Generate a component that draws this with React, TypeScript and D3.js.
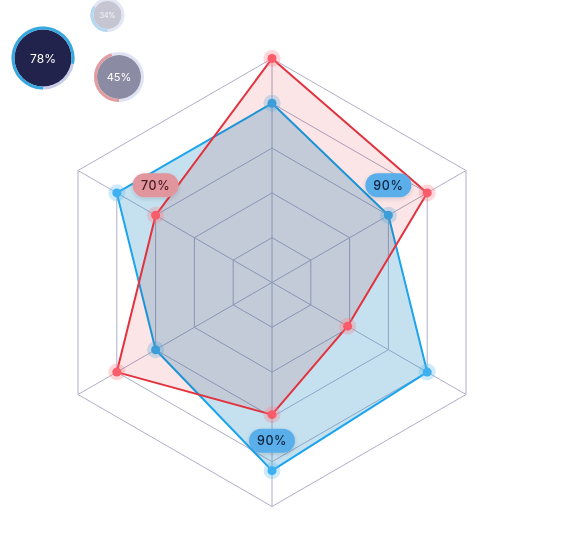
import * as d3 from 'd3';
import React from 'react';

// six unlabeled axes, clockwise from the top
const axes = ['A', 'B', 'C', 'D', 'E', 'F'];
const redValues = [100, 80, 39, 59, 80, 60];
const blueValues = [80, 60, 80, 84, 60, 80];
const ringLevels = [20, 40, 60, 80, 100];

// callout pills: series, axis index, text
const callouts = [
    { series: 'red', axis: 5, text: '70%' },
    { series: 'blue', axis: 1, text: '90%' },
    { series: 'blue', axis: 3, text: '90%' },
];

// decorative progress bubbles
const bubbleValues = [78, 34, 45];
const bubbleLayout = [
    { cx: 43, cy: 58, r: 28.5, fill: '#22234d', arc: '#36a9e0', track: '#c9cce8', font: 12 },
    { cx: 107.5, cy: 15, r: 14, fill: '#c5c6d1', arc: '#b5d8f2', track: '#e3e6f4', font: 7 },
    { cx: 119, cy: 77, r: 22, fill: '#8b8ca3', arc: '#e29b9e', track: '#e0e3f3', font: 11 },
];

const W = 580;
const H = 540;
const cx = 272;
const cy = 282.5;
const R = 224;

const App: React.FC = () => {
    const rScale = d3.scaleLinear().domain([0, 100]).range([0, R]);
    const angle = d3.scaleLinear().domain([0, axes.length]).range([0, 2 * Math.PI]);

    const radial = d3.lineRadial<number>()
        .angle((_, i) => angle(i))
        .radius((d) => rScale(d))
        .curve(d3.curveLinearClosed);

    const pt = (i: number, v: number) => {
        const a = angle(i);
        return [cx + rScale(v) * Math.sin(a), cy - rScale(v) * Math.cos(a)];
    };

    const series = [
        { key: 'blue', values: blueValues, fill: 'rgb(40,145,195)', fillOpacity: 0.27, stroke: '#1ca5ee', dot: '#3cb0f0', halo: '#5ab8f0', blend: 'normal' },
        { key: 'red', values: redValues, fill: 'rgb(230,70,80)', fillOpacity: 0.14, stroke: '#e2323e', dot: '#fb5c6a', halo: '#ff7a85', blend: 'multiply' },
    ];

    const arcGen = d3.arc();

    return (
        <svg width={W} height={H} style={{ position: 'absolute', left: 0, top: 0, fontFamily: 'Inter, "Noto Sans", sans-serif' }}>
            <defs>
                <filter id="pill-shadow" x="-30%" y="-40%" width="160%" height="200%">
                    <feDropShadow dx="0" dy="1.5" stdDeviation="2" floodColor="#1d2340" floodOpacity="0.16" />
                </filter>
            </defs>

            {/* grid */}
            <g transform={`translate(${cx},${cy})`}>
                {ringLevels.map((lv) => (
                    <path key={lv} d={radial(axes.map(() => lv)) || ''} fill="none" stroke="#aeaec8" strokeWidth={1} />
                ))}
                {axes.map((a, i) => (
                    <line key={a} x1={0} y1={0}
                        x2={rScale(100) * Math.sin(angle(i))}
                        y2={-rScale(100) * Math.cos(angle(i))}
                        stroke="#aeaec8" strokeWidth={1} />
                ))}
            </g>

            {/* series */}
            {series.map((s) => (
                <g key={s.key}>
                    <path transform={`translate(${cx},${cy})`} d={radial(s.values) || ''}
                        fill={s.fill} fillOpacity={s.fillOpacity}
                        style={{ mixBlendMode: s.blend as any }} />
                    <path transform={`translate(${cx},${cy})`} d={radial(s.values) || ''}
                        fill="none" stroke={s.stroke} strokeWidth={2} strokeLinejoin="round" />
                    {s.values.map((v, i) => {
                        const [x, y] = pt(i, v);
                        return (
                            <g key={i}>
                                <circle cx={x} cy={y} r={8.5} fill={s.halo} fillOpacity={0.3} />
                                <circle cx={x} cy={y} r={4.5} fill={s.dot} />
                            </g>
                        );
                    })}
                </g>
            ))}

            {/* callouts */}
            {callouts.map((c, i) => {
                const vals = c.series === 'red' ? redValues : blueValues;
                const [x, y] = pt(c.axis, vals[c.axis]);
                const py = y - 30;
                const isRed = c.series === 'red';
                return (
                    <g key={i} filter="url(#pill-shadow)">
                        <rect x={x - 23} y={py - 12} width={46} height={24} rx={12}
                            fill={isRed ? '#e0969c' : '#5aaeea'} />
                        <text x={x} y={py} textAnchor="middle" dominantBaseline="central"
                            fontSize={12.5} fontWeight={500} letterSpacing={0.6}
                            fill={isRed ? '#4d1a24' : '#10263f'}>{c.text}</text>
                    </g>
                );
            })}

            {/* bubbles */}
            {bubbleValues.map((v, i) => {
                const b = bubbleLayout[i];
                const start = Math.PI;
                const end = Math.PI + (v / 100) * 2 * Math.PI;
                return (
                    <g key={i} transform={`translate(${b.cx},${b.cy})`}>
                        <circle r={b.r + 1.5} fill="none" stroke={b.track} strokeWidth={3} />
                        <circle r={b.r} fill={b.fill} />
                        <path d={arcGen({ innerRadius: b.r, outerRadius: b.r + 3, startAngle: start, endAngle: end } as any) || ''}
                            fill={b.arc} />
                        <text textAnchor="middle" dominantBaseline="central" fontSize={b.font}
                            fill="#ffffff" fillOpacity={i === 1 ? 0.85 : 1}>{v}%</text>
                    </g>
                );
            })}
        </svg>
    );
};

export default App;
